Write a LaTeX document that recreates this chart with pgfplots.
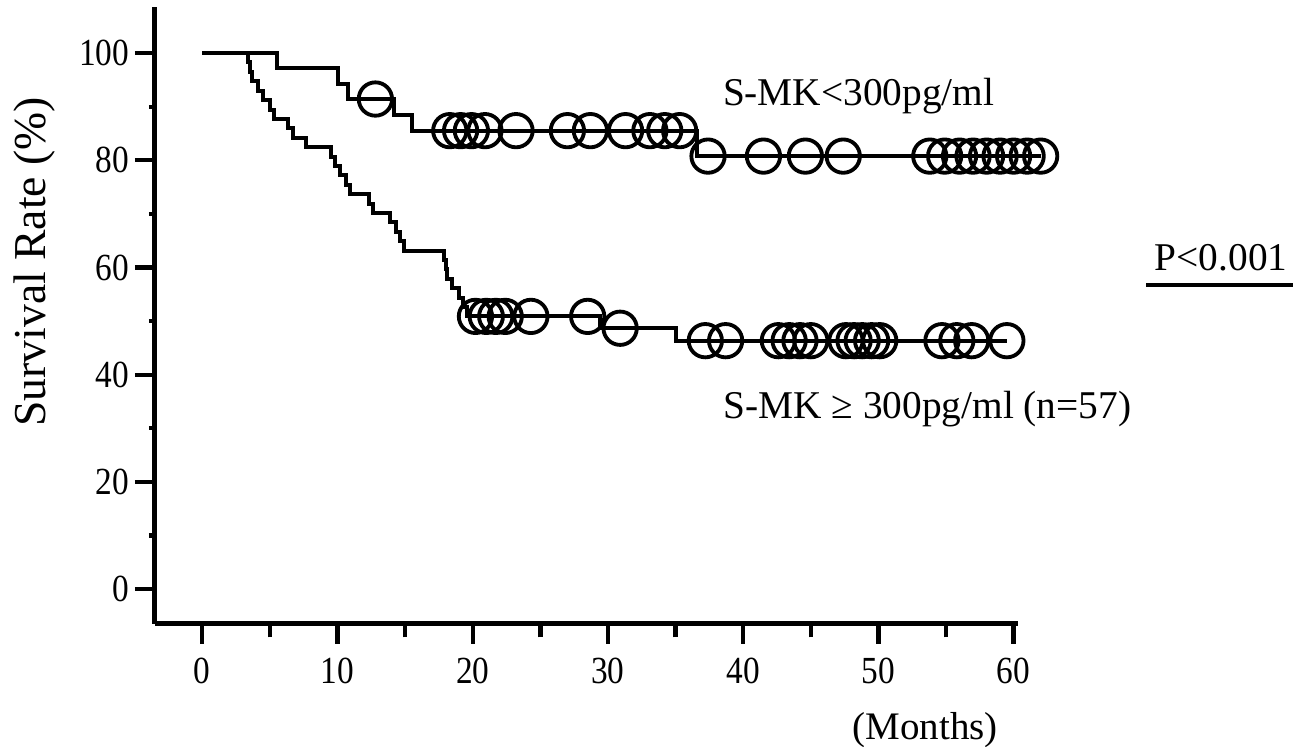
\documentclass[border=0pt]{standalone}
\usepackage{fontspec}
\setmainfont{Liberation Serif}
\usepackage{pgfplots}
\pgfplotsset{compat=1.18}
\begin{document}
\begin{tikzpicture}
\begin{axis}[
  at={(0,0)}, anchor=south west,
  scale only axis,
  width=258.8pt, height=185.1pt,
  xmin=-3.5, xmax=60.3, ymin=-6.5, ymax=108.6,
  axis lines=left,
  axis line style={-, line width=1.5pt},
  xtick={0,10,...,60}, ytick={0,20,...,100},
  minor ytick={10,30,...,90},
  extra x ticks={5,15,...,55},
  extra x tick labels={},
  extra x tick style={major tick length=4pt},
  tick align=outside,
  major tick length=6pt, minor tick length=1.8pt,
  tick style={black, line width=1.3pt},
  tick label style={font=\fontsize{10}{12}\selectfont, yscale=1.15},
  yticklabel style={inner sep=1.5pt},
  /pgf/number format/assume math mode=true,
  clip=false,
  xlabel={(Months)}, ylabel={Survival Rate (\%)},
  every axis x label/.style={at={(axis description cs:0.893,-0.172)}, anchor=center, font=\fontsize{11.7}{14}\selectfont},
  every axis y label/.style={at={(axis description cs:-0.14,0.587)}, anchor=center, rotate=90, font=\fontsize{13.7}{16}\selectfont},
]
% S-MK < 300 pg/ml
\addplot[const plot, black, line width=1.2pt] coordinates {
  (0,100) (5.5,97.14) (10.0,94.29) (10.8,91.43) (14.2,88.48) (15.5,85.53)
  (36.6,80.78) (62.0,80.78)
};
\addplot[only marks, mark=o, mark size=5pt, mark options={line width=1.15pt, black}] coordinates {
  (12.8,91.43)
  (18.3,85.53) (19.1,85.53) (19.9,85.53) (20.9,85.53) (23.2,85.53)
  (27.0,85.53) (28.7,85.53) (31.3,85.53) (33.1,85.53) (34.2,85.53) (35.3,85.53)
  (37.4,80.78) (41.5,80.78) (44.6,80.78) (47.4,80.78)
  (53.8,80.78) (54.9,80.78) (56.0,80.78) (57.0,80.78) (58.0,80.78)
  (59.0,80.78) (60.0,80.78) (61.0,80.78) (62.0,80.78)
};
% S-MK >= 300 pg/ml
\addplot[const plot, black, line width=1.2pt] coordinates {
  (0,100) (3.4,98.25) (3.55,96.49) (3.7,94.74) (4.1,92.98) (4.5,91.23)
  (5.0,89.47) (5.3,87.72) (6.3,85.96) (6.7,84.21) (7.7,82.46) (9.5,80.70)
  (9.8,78.95) (10.2,77.19) (10.6,75.44) (10.9,73.68) (12.3,71.93) (12.6,70.18)
  (13.9,68.42) (14.3,66.67) (14.6,64.91) (14.9,63.16) (17.9,61.40) (18.0,59.65)
  (18.1,57.89) (18.5,56.14) (19.0,54.39) (19.3,52.63) (19.6,50.88)
  (29.4,48.67) (35.0,46.35) (59.5,46.35)
};
\addplot[only marks, mark=o, mark size=5pt, mark options={line width=1.15pt, black}] coordinates {
  (20.2,50.88) (21.0,50.88) (21.7,50.88) (22.4,50.88) (24.3,50.88) (28.5,50.88)
  (30.9,48.67)
  (37.2,46.35) (38.7,46.35)
  (42.6,46.35) (43.4,46.35) (44.2,46.35) (45.0,46.35)
  (47.6,46.35) (48.2,46.35) (48.8,46.35) (49.5,46.35) (50.1,46.35)
  (54.7,46.35) (55.8,46.35) (56.9,46.35) (59.5,46.35)
};
\node[anchor=base west, inner sep=0pt, font=\fontsize{11.8}{14}\selectfont] at (axis cs:38.46,90.3) {S-MK<300pg/ml};
\node[anchor=base west, inner sep=0pt, font=\fontsize{11.8}{14}\selectfont] at (axis cs:38.5,31.9) {S-MK ≥ 300pg/ml (n=57)};
\node[anchor=base west, inner sep=0pt, font=\fontsize{11.8}{14}\selectfont] at (axis cs:70.4,59.5) {P<0.001};
\draw[line width=1.3pt] (axis cs:69.8,56.7) -- (axis cs:80.7,56.7);
\end{axis}
\pgfresetboundingbox
\useasboundingbox (-46.5pt,-36.9pt) rectangle (341.4pt,187.2pt);
\end{tikzpicture}
\end{document}
